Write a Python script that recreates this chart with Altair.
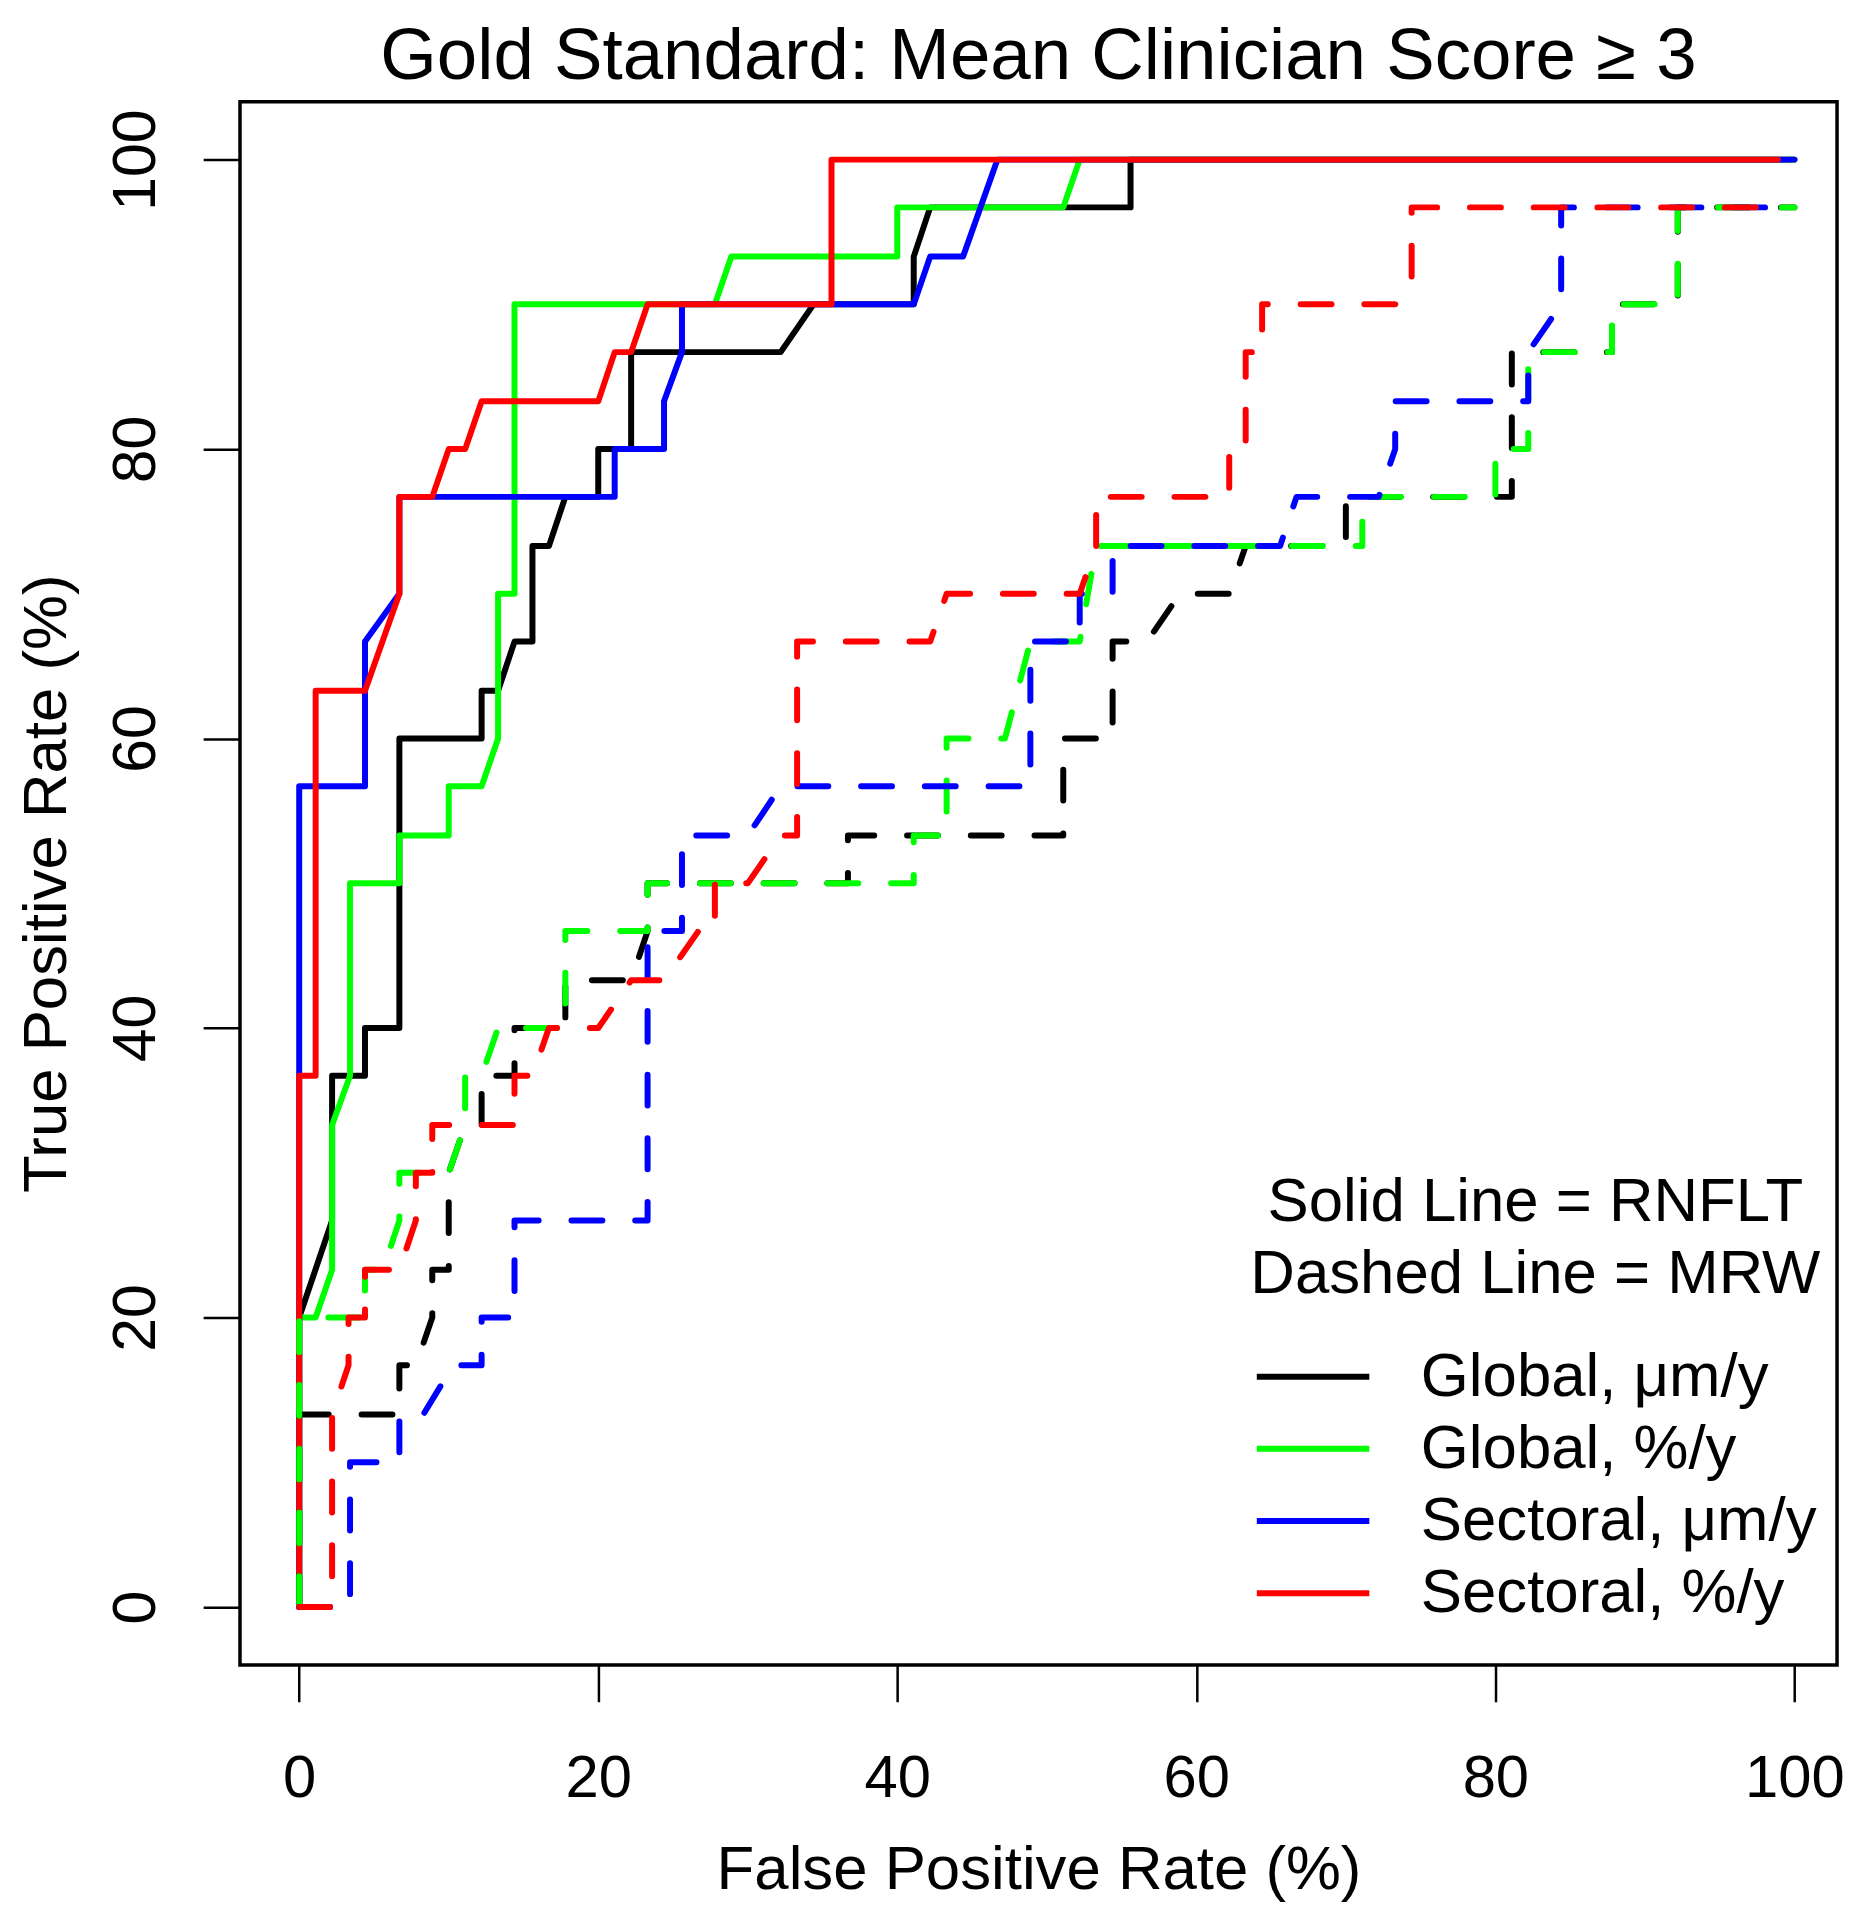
import altair as alt
import pandas as pd

FONT = "Liberation Sans"

SERIES = ["Global, μm/y", "Global, %/y", "Sectoral, μm/y", "Sectoral, %/y"]
COLORS = ["#000000", "#00ff00", "#0000ff", "#ff0000"]
X_TICKS = [0, 20, 40, 60, 80, 100]
Y_TICKS = [0, 20, 40, 60, 80, 100]

# ---- RNFLT (solid) ----
rnflt_global_um_x = [0, 0, 2.2, 2.2, 4.4, 4.4, 6.7, 6.7, 12.2, 12.2, 13.3, 14.4, 15.6, 15.6, 16.7, 17.8, 20, 20,
                     22.2, 22.2, 32.2, 34.4, 41.1, 41.1, 42.2, 55.6, 55.6, 100]
rnflt_global_um_y = [0, 20, 26.7, 36.7, 36.7, 40, 40, 60, 60, 63.3, 63.3, 66.7, 66.7, 73.3, 73.3, 76.7, 76.7, 80,
                     80, 86.7, 86.7, 90, 90, 93.3, 96.7, 96.7, 100, 100]

rnflt_global_pct_x = [0, 0, 1.1, 2.2, 2.2, 3.4, 3.4, 6.7, 6.7, 10, 10, 12.2, 13.3, 13.3, 14.4, 14.4, 27.8, 28.9,
                      40, 40, 51.1, 52.2, 100]
rnflt_global_pct_y = [0, 20, 20, 23.3, 33.3, 36.7, 50, 50, 53.3, 53.3, 56.7, 56.7, 60, 70, 70, 90, 90, 93.3,
                      93.3, 96.7, 96.7, 100, 100]

rnflt_sector_um_x = [0, 0, 4.4, 4.4, 6.7, 6.7, 21.1, 21.1, 24.4, 24.4, 25.6, 25.6, 41.1, 42.2, 44.4, 46.7, 100]
rnflt_sector_um_y = [0, 56.7, 56.7, 66.7, 70, 76.7, 76.7, 80, 80, 83.3, 86.7, 90, 90, 93.3, 93.3, 100, 100]

rnflt_sector_pct_x = [0, 0, 1.1, 1.1, 4.4, 6.7, 6.7, 8.9, 10, 11.1, 12.2, 20, 21.1, 22.2, 23.3, 35.6, 35.6, 98.9]
rnflt_sector_pct_y = [0, 36.7, 36.7, 63.3, 63.3, 70, 76.7, 76.7, 80, 80, 83.3, 83.3, 86.7, 86.7, 90, 90, 100, 100]

# ---- MRW (dashed) ----
mrw_global_um_x = [0, 0, 6.7, 6.7, 7.8, 8.9, 8.9, 10, 10, 11.1, 12.2, 12.2, 14.4, 14.4, 17.8, 17.8, 22.2, 23.3,
                   23.3, 36.7, 36.7, 51.1, 51.1, 54.4, 54.4, 56.7, 58.9, 62.2, 63.3, 70, 70, 81.1, 81.1, 87.8,
                   87.8, 92.2, 92.2, 100]
mrw_global_um_y = [0, 13.3, 13.3, 16.7, 16.7, 20, 23.3, 23.3, 30, 33.3, 33.3, 36.7, 36.7, 40, 40, 43.3, 43.3, 46.7,
                   50, 50, 53.3, 53.3, 60, 60, 66.7, 66.7, 70, 70, 73.3, 73.3, 76.7, 76.7, 86.7, 86.7,
                   90, 90, 96.7, 96.7]

mrw_global_pct_x = [0, 0, 4.4, 4.4, 5.6, 6.7, 6.7, 10, 11.1, 11.1, 12.2, 13.3, 17.8, 17.8, 23.3, 23.3, 41.1, 41.1,
                    43.3, 43.3, 47.2, 48.9, 52.2, 53.3, 71.1, 71.1, 80, 80, 82.2, 82.2, 87.8, 87.8, 92.2, 92.2, 100]
mrw_global_pct_y = [0, 20, 20, 23.3, 23.3, 26.7, 30, 30, 33.3, 36.7, 36.7, 40, 40, 46.7, 46.7, 50, 50, 53.3,
                    53.3, 60, 60, 66.7, 66.7, 73.3, 73.3, 76.7, 76.7, 80, 80, 86.7, 86.7, 90, 90, 96.7, 96.7]

mrw_sector_um_x = [0, 3.4, 3.4, 6.7, 6.7, 8.3, 10.3, 12.2, 12.2, 14.4, 14.4, 23.3, 23.3, 25.6, 25.6, 30, 32.2,
                   48.9, 48.9, 52.2, 52.2, 54.4, 54.4, 65.6, 66.7, 72.2, 73.3, 73.3, 82.2, 82.2, 84.4, 84.4, 100]
mrw_sector_um_y = [0, 0, 10, 10, 13.3, 13.3, 16.7, 16.7, 20, 20, 26.7, 26.7, 46.7, 46.7, 53.3, 53.3, 56.7,
                   56.7, 66.7, 66.7, 70, 70, 73.3, 73.3, 76.7, 76.7, 80, 83.3, 83.3, 86.7, 90, 96.7, 96.7]

mrw_sector_pct_x = [0, 2.2, 2.2, 3.3, 3.3, 4.4, 4.4, 6.7, 7.8, 7.8, 8.9, 8.9, 14.4, 14.4, 15.6, 16.7, 20, 22.2,
                    24.4, 26.7, 27.8, 27.8, 30, 32.2, 33.3, 33.3, 42.2, 43.3, 52.2, 53.3, 53.3, 62.2, 62.2,
                    63.3, 63.3, 64.4, 64.4, 73.3, 74.4, 74.4, 98.9]
mrw_sector_pct_y = [0, 0, 13.3, 16.7, 20, 20, 23.3, 23.3, 26.7, 30, 30, 33.3, 33.3, 36.7, 36.7, 40, 40, 43.3,
                    43.3, 46.7, 46.7, 50, 50, 53.3, 53.3, 66.7, 66.7, 70, 70, 73.3, 76.7, 76.7, 80,
                    80, 86.7, 86.7, 90, 90, 91.7, 96.7, 96.7]

# drawing order: solid lines first, then dashed lines
CURVES = [
    (SERIES[0], False, rnflt_global_um_x, rnflt_global_um_y),
    (SERIES[1], False, rnflt_global_pct_x, rnflt_global_pct_y),
    (SERIES[2], False, rnflt_sector_um_x, rnflt_sector_um_y),
    (SERIES[3], False, rnflt_sector_pct_x, rnflt_sector_pct_y),
    (SERIES[0], True, mrw_global_um_x, mrw_global_um_y),
    (SERIES[1], True, mrw_global_pct_x, mrw_global_pct_y),
    (SERIES[2], True, mrw_sector_um_x, mrw_sector_um_y),
    (SERIES[3], True, mrw_sector_pct_x, mrw_sector_pct_y),
]

rows = []
for k, (name, dashed, xs, ys) in enumerate(CURVES):
    for i, (xv, yv) in enumerate(zip(xs, ys)):
        rows.append({"series": name, "curve": k, "idx": i, "fpr": xv, "tpr": yv})
df = pd.DataFrame(rows)

x_enc = alt.X(
    "fpr:Q",
    scale=alt.Scale(domain=[-3.96, 102.85], nice=False, zero=False),
    axis=alt.Axis(
        values=X_TICKS, tickSize=37, tickWidth=2.5, tickColor="black", domain=False, grid=False,
        labelFontSize=60, labelFont=FONT, labelColor="black", labelPadding=48, labelBaseline="top",
        labelAlign="center", labelFlush=False, labelOverlap=False,
        title="False Positive Rate (%)", titleFontSize=62, titleFont=FONT, titleFontWeight="normal",
        titleColor="black", titleX=802, titleY=225, titleBaseline="alphabetic", titleAlign="center",
    ),
)
y_enc = alt.Y(
    "tpr:Q",
    scale=alt.Scale(domain=[-4, 104], nice=False, zero=False),
    axis=alt.Axis(
        values=Y_TICKS, tickSize=37, tickWidth=2.5, tickColor="black", domain=False, grid=False,
        labelFontSize=61, labelFont=FONT, labelColor="black", labelPadding=49, labelAngle=270,
        labelAlign="center", labelBaseline="alphabetic", labelFlush=False, labelOverlap=False,
        title="True Positive Rate (%)", titleFontSize=62, titleFont=FONT, titleFontWeight="normal",
        titleColor="black", titleAngle=270, titleX=-175, titleY=785, titleBaseline="alphabetic",
        titleAlign="center",
    ),
)
color_enc = alt.Color(
    "series:N",
    scale=alt.Scale(domain=SERIES, range=COLORS),
    legend=alt.Legend(
        orient="none", legendX=1015, legendY=1075, padding=0,
        title=["Solid Line = RNFLT", "Dashed Line = MRW"], titleFontSize=62, titleFont=FONT,
        titleFontWeight="normal", titleColor="black", titleAlign="center", titleAnchor="middle",
        titleLineHeight=72, titleBaseline="top", titlePadding=40, titleLimit=2000,
        labelFontSize=62, labelFont=FONT, labelColor="black", labelOffset=105, labelLimit=2000,
        symbolType="M-1,0H3", symbolSize=3192, symbolStrokeWidth=6, rowPadding=9.5,
    ),
)

layers = []
for k, (name, dashed, xs, ys) in enumerate(CURVES):
    mark_kwargs = dict(strokeWidth=6, strokeCap="round", strokeJoin="round")
    if dashed:
        mark_kwargs["strokeDash"] = [31, 33]
    layers.append(
        alt.Chart(df)
        .transform_filter(alt.datum.curve == k)
        .mark_line(**mark_kwargs)
        .encode(x=x_enc, y=y_enc, color=color_enc, order=alt.Order("idx:Q"))
    )

chart = (
    alt.layer(*layers)
    .properties(
        width=1604,
        height=1570,
        autosize=alt.AutoSizeParams(type="none"),
        padding={"left": 233, "top": 90, "right": 8, "bottom": 238},
        title=alt.TitleParams(
            "Gold Standard: Mean Clinician Score \u2265 3", fontSize=73, font=FONT, fontWeight="normal",
            color="black", anchor="middle", baseline="top", offset=8, frame="group",
        ),
    )
    .configure(background="white", view=alt.ViewConfig(stroke="black", strokeWidth=3.5))
)

chart.save("out.html", embed_options={"renderer": "svg", "actions": False})
